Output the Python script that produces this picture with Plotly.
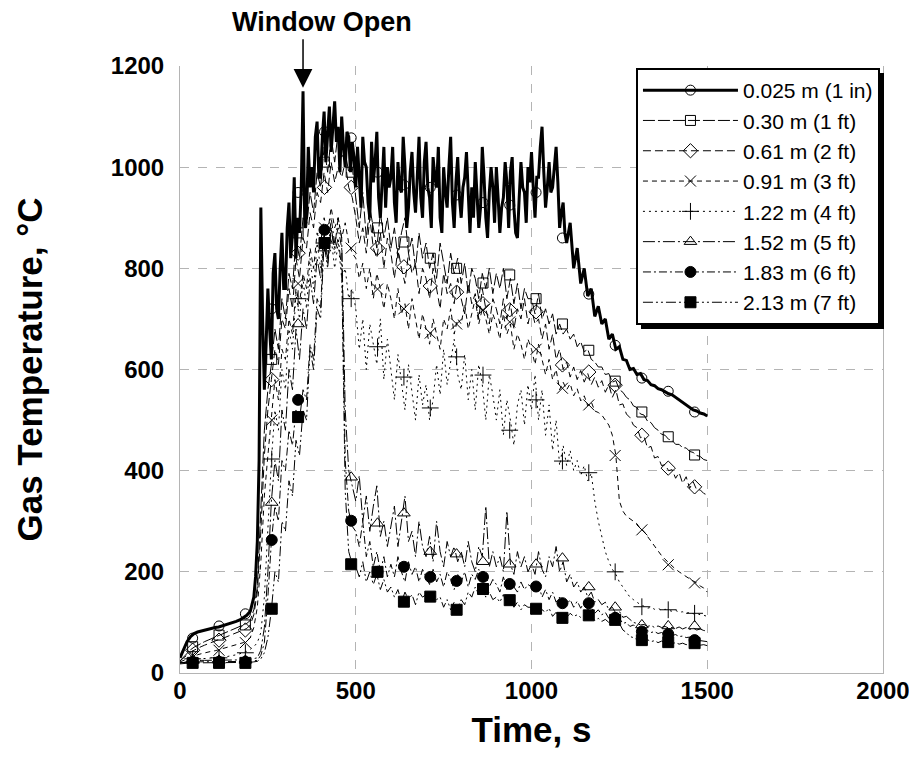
import plotly.graph_objects as go

# ---------------- data ----------------
TIME = list(range(0, 1510, 10))  # s, common time base
# finer time base used for the 0.025 m trace (the noisiest one)
TIME_S1 = list(range(0, 200, 10)) + list(range(200, 1100, 5)) + list(range(1100, 1510, 10))

MARK_T = [36, 111, 186, 261, 336, 411, 487, 562, 637, 712, 787, 862, 938,
          1013, 1088, 1163, 1238, 1314, 1389, 1464]

LABELS = ["0.025 m (1 in)", "0.30 m (1 ft)", "0.61 m (2 ft)", "0.91 m (3 ft)",
          "1.22 m (4 ft)", "1.52 m (5 ft)", "1.83 m (6 ft)", "2.13 m (7 ft)"]

S_0025 = [30, 48, 62, 72, 78, 81, 83, 85, 87, 88,
          90, 91, 93, 95, 97, 99, 102, 105, 109, 114,
          122, 135, 150, 190, 260, 420, 920, 700, 560, 650,
          760, 680, 620, 790, 830, 720, 700, 800, 870, 760,
          760, 880, 930, 820, 870, 980, 820, 900, 870, 960,
          1150, 880, 900, 1040, 960, 1000, 950, 1060, 1090, 980,
          980, 1060, 1110, 1010, 1070, 1120, 1030, 1090, 1130, 1050,
          1080, 990, 1100, 1040, 1000, 1070, 1060, 990, 1050, 1020,
          960, 1040, 990, 920, 1060, 1010, 1000, 930, 900, 1050,
          970, 1010, 1070, 940, 900, 980, 1040, 920, 1000, 960,
          980, 1040, 930, 890, 1010, 960, 950, 1060, 1000, 880,
          920, 990, 1030, 950, 910, 980, 1060, 940, 900, 1010,
          1050, 960, 940, 880, 1020, 980, 960, 1040, 900, 870,
          1000, 950, 920, 1000, 1060, 930, 880, 970, 1020, 940,
          900, 960, 980, 1030, 940, 870, 960, 900, 1010, 950,
          880, 920, 1040, 980, 900, 860, 950, 1000, 960, 890,
          1000, 940, 870, 920, 940, 1010, 970, 880, 990, 1020,
          920, 870, 860, 940, 1010, 960, 950, 890, 1000, 970,
          1030, 960, 900, 980, 980, 1040, 1080, 990, 920, 960,
          1010, 950, 960, 1000, 1040, 970, 880, 910, 930, 870,
          850, 890, 800, 840, 770, 800, 745, 760, 705, 725,
          690, 700, 660, 670, 640, 645, 620, 618, 600, 602,
          590, 592, 580, 578, 570, 568, 562, 560, 556, 552,
          550, 545, 540, 535, 530, 525, 520, 518, 514, 512,
          508]

S_030 = [24, 32, 40, 46, 51, 55, 59, 62, 65, 68,
         71, 74, 77, 80, 83, 86, 89, 92, 95, 98,
         104, 125, 170, 330, 480, 560, 610, 680, 640, 740,
         700, 790, 760, 860, 820, 900, 880, 950, 910, 990,
         960, 1040, 990, 1060, 1010, 1070, 1020, 1030, 990, 1000,
         940, 880, 950, 860, 920, 880, 840, 910, 860, 900,
         840, 880, 820, 870, 900, 830, 860, 800, 870, 820,
         850, 800, 830, 780, 850, 810, 770, 830, 790, 820,
         770, 810, 750, 800, 780, 740, 790, 760, 800, 750,
         790, 760, 800, 740, 780, 730, 770, 720, 760, 740,
         740, 710, 750, 700, 720, 690, 710, 670, 690, 670,
         680, 660, 670, 645, 655, 635, 640, 620, 615, 605,
         605, 590, 592, 575, 578, 560, 555, 545, 540, 528,
         525, 512, 510, 498, 495, 485, 480, 472, 470, 462,
         460, 452, 452, 445, 445, 438, 436, 430, 428, 422,
         420]

S_061 = [24, 30, 36, 41, 45, 49, 52, 55, 58, 61,
         63, 66, 68, 71, 74, 76, 79, 82, 85, 88,
         95, 115, 160, 280, 430, 520, 580, 640, 610, 700,
         680, 760, 720, 820, 780, 860, 840, 910, 880, 950,
         930, 990, 950, 1010, 970, 1000, 980, 1010, 960, 940,
         900, 850, 880, 830, 900, 840, 820, 870, 800, 860,
         830, 780, 840, 800, 770, 830, 790, 810, 750, 800,
         780, 740, 800, 760, 720, 790, 750, 770, 730, 780,
         740, 710, 770, 730, 750, 700, 760, 720, 690, 740,
         720, 690, 740, 700, 730, 680, 720, 700, 740, 690,
         720, 690, 700, 660, 690, 640, 670, 620, 640, 600,
         615, 585, 605, 580, 598, 575, 592, 570, 585, 565,
         578, 555, 570, 545, 560, 530, 532, 512, 505, 490,
         485, 465, 468, 445, 448, 425, 428, 410, 412, 400,
         402, 385, 396, 375, 388, 365, 378, 362, 362, 355,
         352]

S_091 = [22, 25, 28, 31, 34, 36, 38, 40, 41, 43,
         44, 46, 47, 49, 51, 53, 55, 57, 60, 64,
         70, 90, 130, 220, 350, 430, 500, 580, 540, 640,
         620, 700, 670, 760, 730, 790, 760, 840, 800, 870,
         850, 900, 870, 920, 880, 900, 860, 890, 850, 830,
         820, 780, 810, 760, 800, 740, 790, 760, 720, 770,
         740, 700, 760, 710, 730, 680, 740, 700, 660, 710,
         680, 650, 700, 670, 640, 700, 680, 720, 670, 700,
         690, 730, 680, 710, 740, 690, 720, 700, 670, 710,
         690, 660, 710, 670, 690, 640, 670, 650, 620, 660,
         640, 610, 650, 620, 590, 620, 580, 600, 560, 575,
         560, 572, 548, 562, 538, 548, 528, 536, 518, 515,
         510, 500, 490, 470, 430, 340, 320, 310, 305, 300,
         295, 285, 280, 270, 260, 250, 240, 232, 225, 218,
         212, 205, 200, 195, 190, 186, 182, 178, 172, 168,
         160]

S_122 = [20, 22, 24, 26, 27, 28, 28, 29, 29, 30,
         30, 30, 31, 32, 33, 34, 36, 38, 40, 43,
         47, 52, 60, 80, 150, 280, 420, 520, 480, 600,
         560, 680, 640, 750, 700, 780, 720, 820, 760, 850,
         800, 870, 820, 860, 800, 850, 780, 800, 740, 760,
         720, 640, 700, 600, 690, 650, 610, 700, 580, 660,
         600, 540, 630, 580, 520, 610, 560, 500, 590, 530,
         570, 500, 540, 610, 550, 640, 570, 620, 660, 590,
         560, 630, 540, 600, 520, 610, 570, 500, 590, 550,
         500, 560, 470, 540, 500, 450, 530, 560, 490, 570,
         520, 590, 500, 560, 470, 530, 440, 500, 410, 450,
         410, 440, 400, 420, 390, 410, 380, 395, 340, 300,
         270, 240, 220, 205, 195, 180, 170, 160, 150, 145,
         140, 135, 132, 128, 130, 126, 128, 124, 126, 124,
         122, 124, 120, 121, 118, 120, 117, 118, 115, 114,
         112]

S_152 = [20, 21, 22, 23, 24, 25, 25, 25, 25, 25,
         25, 25, 25, 25, 25, 25, 25, 25, 26, 26,
         27, 28, 30, 45, 90, 200, 340, 420, 380, 520,
         480, 600, 560, 680, 620, 720, 680, 780, 730, 820,
         780, 860, 810, 880, 840, 900, 860, 520, 400, 370,
         340, 390, 300, 350, 280, 330, 370, 270, 300, 250,
         290, 330, 250, 300, 350, 260, 280, 230, 300, 250,
         230, 270, 220, 300, 240, 210, 260, 230, 250, 220,
         240, 210, 260, 220, 200, 250, 230, 330, 210, 240,
         210, 230, 200, 320, 215, 195, 240, 210, 230, 200,
         215, 195, 240, 205, 190, 230, 210, 250, 200, 220,
         180, 195, 170, 180, 160, 170, 150, 160, 140, 145,
         135, 140, 125, 130, 118, 122, 110, 112, 105, 100,
         98, 95, 96, 92, 94, 90, 93, 90, 92, 89,
         90, 88, 91, 87, 90, 86, 89, 85, 87, 84,
         83]

S_183 = [20, 21, 21, 22, 22, 22, 22, 22, 22, 22,
         22, 22, 22, 22, 22, 22, 22, 22, 22, 23,
         23, 24, 25, 35, 60, 150, 260, 330, 300, 420,
         400, 480, 450, 520, 500, 560, 540, 650, 620, 740,
         720, 870, 820, 900, 850, 880, 840, 420, 320, 290,
         280, 250, 300, 230, 260, 210, 240, 200, 230, 190,
         215, 190, 230, 200, 180, 220, 195, 210, 180, 205,
         190, 175, 205, 180, 195, 170, 200, 185, 165, 195,
         180, 200, 170, 195, 185, 205, 180, 195, 170, 185,
         175, 160, 190, 165, 180, 170, 160, 180, 165, 175,
         170, 160, 175, 150, 165, 145, 160, 140, 150, 135,
         135, 145, 130, 142, 128, 140, 125, 130, 118, 125,
         115, 120, 108, 112, 105, 108, 98, 100, 92, 95,
         88, 85, 82, 84, 80, 82, 78, 80, 76, 78,
         74, 76, 72, 73, 70, 71, 68, 66, 64, 63,
         62]

S_213 = [18, 19, 19, 20, 20, 20, 20, 20, 20, 20,
         20, 20, 20, 20, 20, 20, 20, 20, 20, 21,
         21, 22, 23, 28, 40, 70, 125, 200, 180, 300,
         280, 380, 350, 460, 430, 520, 500, 640, 600, 720,
         700, 850, 800, 880, 830, 860, 800, 360, 240, 215,
         210, 190, 220, 180, 200, 175, 195, 165, 185, 160,
         170, 150, 165, 140, 160, 145, 155, 135, 160, 150,
         155, 140, 160, 145, 150, 130, 145, 125, 140, 130,
         145, 135, 160, 150, 170, 155, 165, 150, 160, 145,
         150, 140, 155, 135, 145, 130, 140, 125, 135, 130,
         130, 120, 135, 125, 120, 128, 112, 120, 108, 115,
         110, 118, 112, 115, 110, 114, 108, 112, 104, 108,
         102, 106, 100, 104, 95, 98, 85, 80, 72, 70,
         66, 68, 64, 66, 62, 64, 60, 63, 60, 62,
         58, 60, 57, 59, 56, 58, 55, 57, 55, 56,
         54]

M_0025 = [69, 93, 117, 720, 950, 1070, 1058, 990, 965, 960, 945, 930, 925,
          950, 860, 749, 648, 583, 557, 516]
M_030 = [52, 75, 95, 620, 870, 1010, 990, 880, 852, 820, 800, 771, 787,
         740, 690, 638, 577, 516, 467, 431]
M_061 = [45, 65, 85, 580, 830, 960, 960, 840, 803, 765, 753, 730, 718,
         714, 609, 595, 569, 470, 405, 368]
M_091 = [35, 45, 60, 500, 770, 880, 840, 759, 720, 672, 690, 718, 694,
         640, 563, 530, 430, 283, 214, 178]
M_122 = [28, 30, 40, 423, 740, 850, 740, 645, 585, 524, 625, 589, 480,
         540, 419, 396, 200, 131, 125, 118]
M_152 = [25, 25, 25, 337, 690, 840, 387, 296, 316, 240, 235, 220, 215,
         215, 227, 170, 130, 95, 93, 93]
M_183 = [22, 22, 22, 263, 540, 876, 301, 200, 210, 190, 182, 190, 176,
         171, 138, 138, 109, 82, 77, 65]
M_213 = [20, 20, 20, 127, 506, 850, 215, 200, 141, 151, 125, 166, 144,
         127, 109, 114, 105, 65, 61, 59]

LINES = [S_0025, S_030, S_061, S_091, S_122, S_152, S_183, S_213]
LINE_T = [TIME_S1, TIME, TIME, TIME, TIME, TIME, TIME, TIME]
MARKS = [M_0025, M_030, M_061, M_091, M_122, M_152, M_183, M_213]

X_TICKS = [0, 500, 1000, 1500, 2000]
Y_TICKS = [0, 200, 400, 600, 800, 1000, 1200]

# ---------------- styles ----------------
DASHES = ["solid", "12px,3px", "8px,4px", "5px,4px", "2px,4px",
          "12px,3px,2px,3px", "8px,3px,2px,3px", "10px,3px,2px,3px,2px,3px"]
WIDTHS = [3, 1, 1, 1, 1, 1, 1, 1]
SYMBOLS = ["circle-open", "square-open", "diamond-open", "x-thin-open",
           "cross-thin-open", "triangle-up-open", "circle", "square"]
SIZES = [10, 10, 11, 11, 12, 11, 11, 11]

FONT = "Liberation Sans, Arial, sans-serif"

fig = go.Figure()
for i in range(8):
    g = f"g{i}"
    fig.add_trace(go.Scatter(x=LINE_T[i], y=LINES[i], mode="lines", legendgroup=g,
                             showlegend=False, hoverinfo="skip",
                             line=dict(color="black", width=WIDTHS[i], dash=DASHES[i])))
for i in range(8):
    g = f"g{i}"
    fig.add_trace(go.Scatter(x=MARK_T, y=MARKS[i], mode="markers", legendgroup=g,
                             showlegend=False,
                             marker=dict(symbol=SYMBOLS[i], size=SIZES[i], color="black",
                                         line=dict(color="black", width=1))))
for i in range(8):
    g = f"g{i}"
    fig.add_trace(go.Scatter(x=[None], y=[None], mode="lines+markers", legendgroup=g,
                             name=LABELS[i], showlegend=True,
                             line=dict(color="black", width=WIDTHS[i], dash=DASHES[i]),
                             marker=dict(symbol=SYMBOLS[i], size=SIZES[i], color="black",
                                         line=dict(color="black", width=1))))

# The page body adds an 8 px offset, so the figure is 8 px smaller and the margins
# are shifted to put the plot area at x 180-883, y 66-673 in the window.
GRID = "#b4b4b4"
fig.update_layout(
    width=909, height=771,
    margin=dict(l=172, r=34, t=58, b=106),
    paper_bgcolor="white", plot_bgcolor="white",
    font=dict(family=FONT, color="black"),
    showlegend=True,
    legend=dict(x=0.6486, y=0.9967, xanchor="left", yanchor="top",
                bgcolor="white", bordercolor="black", borderwidth=2,
                font=dict(family=FONT, size=21, color="black"),
                itemwidth=95, tracegroupgap=0, traceorder="grouped"),
    xaxis=dict(range=[0, 2000], tickvals=X_TICKS, ticktext=[str(v) for v in X_TICKS],
               showgrid=True, gridcolor=GRID, griddash="dash", gridwidth=1,
               showline=True, linecolor=GRID, linewidth=1, mirror=False,
               zeroline=False, ticks="", automargin=False, ticklabelstandoff=-4,
               tickfont=dict(family=FONT, size=24, weight="bold"),
               title=dict(text="Time, s", font=dict(family=FONT, size=35, weight="bold"),
                          standoff=14)),
    yaxis=dict(range=[0, 1200], tickvals=Y_TICKS, ticktext=[str(v) for v in Y_TICKS],
               showgrid=True, gridcolor=GRID, griddash="dash", gridwidth=1,
               showline=True, linecolor=GRID, linewidth=1, mirror=True,
               zeroline=False, ticks="", ticklabelstandoff=10, automargin=False,
               tickfont=dict(family=FONT, size=24, weight="bold"),
               title=dict(text="Gas Temperature, °C",
                          font=dict(family=FONT, size=35, weight="bold"), standoff=57)),
)

fig.add_annotation(x=350, y=1157, xref="x", yref="y", text="", showarrow=True,
                   ax=0, ay=-50, arrowhead=2, arrowsize=2.5, arrowwidth=1.5,
                   arrowcolor="black")
fig.add_annotation(x=(322 - 180) / 703, y=(673 - 22) / 607, xref="paper", yref="paper",
                   text="Window Open", showarrow=False, xanchor="center", yanchor="middle",
                   font=dict(family=FONT, size=27, weight="bold", color="black"))

# legend drop shadow
fig.add_shape(type="rect", xref="paper", yref="paper",
              x0=(641 - 180) / 703, x1=(884 - 180) / 703,
              y0=(673 - 329) / 607, y1=(673 - 73) / 607,
              fillcolor="black", line=dict(width=0), layer="above")

fig.write_html("out.html")
